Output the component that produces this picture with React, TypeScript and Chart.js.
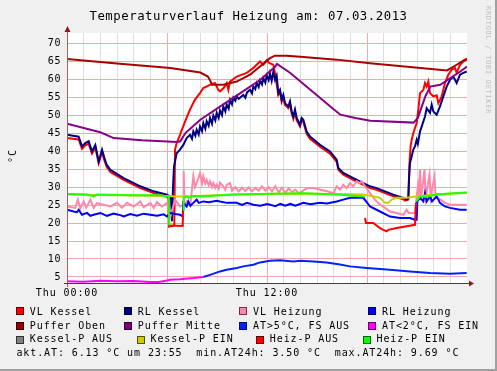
import React, { useEffect, useRef } from 'react';
import { Chart, registerables } from 'chart.js';

Chart.register(...registerables);

type P = [number, number | null];

// ---- data (x = hours since Thu 00:00, y = °C) ----
const vlKessel: P[] = [[0,43.6],[0.7,43.2],[0.9,40.6],[1.1,41.6],[1.3,42.0],[1.5,39.3],[1.7,41.0],[1.9,36.6],[2.1,39.6],[2.25,37.3],[2.38,35.6],[2.6,34.2],[3.4,32.0],[4.4,29.7],[5.2,28.3],[6.0,27.3],[6.1,26.8],[6.12,19.0],[6.44,19.3],[6.48,40.4],[6.58,42.2],[6.78,44.5],[7.08,48.2],[7.38,51.5],[7.68,54.3],[7.98,56.1],[8.18,57.5],[8.58,58.4],[8.88,58.9],[9.08,57.0],[9.18,56.6],[9.4,57.5],[9.58,58.9],[9.68,57.0],[9.78,59.3],[10.18,60.7],[10.78,61.7],[11.18,63.1],[11.58,64.9],[11.78,64.0],[11.98,65.2],[12.15,64.4],[12.38,64.0],[12.5,61.0],[12.58,58.5],[12.68,55.6],[12.78,56.5],[12.88,53.7],[12.98,55.0],[13.08,52.8],[13.28,51.9],[13.38,53.2],[13.48,50.5],[13.58,49.0],[13.68,51.0],[13.78,48.6],[13.98,46.8],[14.08,48.6],[14.18,48.1],[14.38,44.8],[14.58,43.4],[15.18,41.2],[15.78,39.3],[16.18,37.0],[16.28,34.8],[16.58,33.4],[17.18,32.0],[17.78,30.6],[18.18,29.7],[18.58,29.2],[19.58,27.4],[20.18,26.6],[20.28,26.2],[20.48,26.5],[20.54,36.0],[20.62,41.5],[20.68,43.1],[20.78,45.0],[20.98,47.8],[21.08,51.5],[21.18,56.1],[21.38,57.0],[21.48,58.9],[21.58,57.9],[21.68,59.3],[21.78,56.1],[21.98,55.2],[22.18,55.5],[22.28,53.3],[22.48,55.2],[22.68,58.9],[22.88,61.2],[23.08,62.6],[23.28,63.1],[23.38,61.7],[23.58,64.0],[23.78,64.9],[23.98,65.4]];

const rlKessel: P[] = [[0,44.5],[0.7,44.0],[0.9,41.3],[1.1,42.2],[1.3,42.7],[1.5,39.9],[1.7,41.7],[1.9,37.1],[2.1,40.4],[2.25,38.0],[2.38,36.2],[2.6,34.8],[3.4,32.5],[4.4,30.2],[5.2,28.8],[6.0,27.9],[6.18,27.4],[6.24,27.0],[6.3,20.5],[6.36,30.0],[6.42,35.7],[6.58,39.4],[6.78,40.4],[6.98,41.7],[7.18,43.6],[7.38,44.5],[7.5,43.4],[7.58,45.5],[7.7,44.3],[7.78,45.9],[7.9,44.6],[7.98,46.8],[8.1,45.5],[8.18,47.8],[8.3,46.2],[8.38,48.3],[8.5,47.0],[8.58,49.2],[8.7,47.6],[8.78,49.9],[8.9,48.5],[8.98,50.6],[9.1,49.2],[9.18,51.3],[9.3,50.0],[9.38,52.4],[9.5,51.0],[9.58,53.0],[9.7,51.8],[9.78,54.2],[9.9,53.0],[9.98,54.8],[10.1,54.0],[10.18,55.2],[10.3,54.5],[10.58,55.6],[10.7,54.8],[10.8,56.3],[10.98,57.0],[11.1,56.0],[11.18,58.0],[11.3,57.2],[11.38,58.9],[11.5,57.8],[11.58,59.6],[11.7,58.5],[11.78,60.3],[11.9,59.0],[11.98,61.0],[12.1,59.7],[12.18,61.5],[12.28,59.5],[12.38,62.1],[12.48,59.8],[12.58,61.0],[12.68,56.1],[12.78,57.0],[12.88,54.25],[12.98,55.6],[13.08,53.3],[13.28,52.4],[13.38,53.8],[13.48,51.0],[13.58,49.6],[13.68,51.5],[13.78,49.2],[13.98,47.3],[14.08,49.2],[14.18,48.7],[14.38,45.4],[14.58,44.0],[15.18,41.75],[15.78,39.9],[16.18,37.6],[16.28,35.3],[16.58,33.9],[17.18,32.5],[17.78,31.1],[18.18,30.2],[18.58,29.7],[19.58,27.9],[20.18,27.0],[20.38,26.5],[20.48,27.0],[20.52,32.0],[20.58,36.7],[20.68,38.5],[20.78,40.4],[20.88,41.3],[20.98,43.1],[21.05,42.0],[21.18,45.4],[21.28,46.8],[21.48,49.6],[21.58,51.9],[21.78,50.6],[21.88,52.9],[21.98,51.0],[22.18,50.1],[22.38,52.4],[22.58,55.2],[22.78,57.9],[22.98,59.8],[23.18,60.7],[23.38,58.9],[23.58,61.2],[23.78,61.7],[23.98,62.1]];

const vlHeizung: P[] = [[0,24.6],[0.5,24.2],[0.65,26.5],[0.8,24.0],[1.0,26.0],[1.15,24.2],[1.4,26.5],[1.6,24.2],[1.8,25.5],[2.2,25.1],[2.6,24.6],[3.0,25.6],[3.3,24.2],[3.6,25.6],[4.0,24.6],[4.4,26.0],[4.6,24.4],[5.0,25.6],[5.2,24.2],[5.4,25.8],[5.7,24.6],[6.0,25.6],[6.1,24.2],[6.22,22.0],[6.48,26.5],[6.78,24.6],[6.96,25.0],[7.0,34.5],[7.06,24.6],[7.2,26.0],[7.4,24.8],[7.58,33.0],[7.68,30.0],[7.78,31.1],[7.98,33.9],[8.1,31.0],[8.18,33.0],[8.3,31.0],[8.38,32.0],[8.5,30.5],[8.58,31.6],[8.7,30.0],[8.78,31.1],[8.9,29.8],[8.98,30.6],[9.1,29.5],[9.18,31.2],[9.38,30.2],[9.5,29.2],[9.58,30.6],[9.78,31.1],[9.9,29.0],[10.1,30.0],[10.3,28.8],[10.5,29.8],[10.7,28.9],[10.9,29.9],[11.1,28.8],[11.3,29.7],[11.5,29.0],[11.7,30.2],[11.9,29.0],[12.1,30.0],[12.3,28.8],[12.5,30.2],[12.7,28.5],[12.9,29.8],[13.1,28.3],[13.3,29.7],[13.5,28.5],[13.7,29.3],[13.9,28.3],[14.1,28.8],[14.4,29.7],[14.8,29.7],[15.2,29.25],[15.6,28.8],[16.0,28.3],[16.18,30.2],[16.38,29.25],[16.58,30.6],[16.78,29.7],[16.98,31.1],[17.18,30.2],[17.38,31.6],[17.58,31.1],[17.68,31.6],[17.88,30.2],[18.18,28.3],[18.48,26.5],[18.78,25.1],[19.08,24.2],[19.38,23.2],[19.78,22.8],[20.18,22.3],[20.38,23.7],[20.5,22.8],[20.88,22.8],[20.98,27.4],[21.05,30.0],[21.1,27.0],[21.18,34.8],[21.25,27.0],[21.45,35.0],[21.52,27.0],[21.75,33.5],[21.82,27.2],[22.05,33.0],[22.12,27.0],[22.3,26.8],[22.68,25.6],[22.98,25.1],[23.98,25.1]];

const rlHeizung: P[] = [[0,23.7],[0.4,23.2],[0.6,23.0],[0.7,23.7],[0.9,22.3],[1.2,22.8],[1.4,22.0],[1.6,22.3],[2.0,22.8],[2.4,22.0],[2.8,22.6],[3.2,22.2],[3.4,21.8],[3.8,22.5],[4.2,22.0],[4.6,22.6],[5.0,22.3],[5.4,22.0],[5.8,22.4],[6.0,21.8],[6.18,22.8],[6.5,22.5],[6.78,22.3],[6.94,21.8],[6.98,25.6],[7.18,24.6],[7.28,26.0],[7.4,24.8],[7.58,25.6],[7.78,26.5],[7.9,25.6],[8.18,26.0],[8.5,25.8],[9.0,26.2],[9.18,26.0],[9.6,25.6],[10.18,25.6],[10.5,25.0],[10.8,25.6],[11.18,25.1],[11.6,24.8],[12.0,25.3],[12.18,25.1],[12.5,24.7],[12.8,25.3],[13.1,24.8],[13.4,25.3],[13.7,24.8],[14.18,25.6],[14.6,25.2],[15.18,25.6],[15.6,25.4],[16.18,26.0],[16.58,26.5],[16.98,27.0],[17.58,27.0],[17.78,27.0],[18.18,24.6],[18.78,23.2],[19.38,21.8],[19.98,21.4],[20.58,21.4],[20.88,20.9],[20.98,20.9],[21.02,26.0],[21.18,27.0],[21.38,26.0],[21.48,28.3],[21.58,26.0],[21.78,27.4],[21.9,26.0],[22.18,27.4],[22.38,25.6],[22.68,24.6],[22.98,24.2],[23.58,23.7],[23.98,23.7]];

const pufferOben: P[] = [[0,65.6],[3,64.35],[6.2,63.1],[8,61.8],[8.45,60.7],[8.6,59.5],[8.7,58.4],[9.38,58.4],[10.18,59.3],[10.98,61.2],[11.58,63.5],[12.18,65.8],[12.48,66.5],[13.18,66.5],[14.18,66.1],[16.18,65.4],[18.18,64.4],[22.8,62.4],[23.28,63.7],[23.88,65.4],[24,65.7]];

const pufferMitte: P[] = [[0,47.6],[2,45.2],[2.8,43.6],[4.5,43.0],[6.6,42.5],[6.8,42.7],[7.1,45.0],[8,48.7],[9.2,52.4],[10.4,56.1],[11.6,59.8],[12.5,63.5],[12.6,64.2],[13.4,61.7],[14.6,57.0],[15.8,52.4],[16.4,50.1],[17.3,49.2],[18.2,48.4],[20.8,47.9],[21.05,49.2],[21.5,55.2],[21.8,57.9],[22.4,58.4],[23,60.3],[23.6,62.1],[24,63.5]];

const atHigh: P[] = [[8.18,5.0],[8.58,5.6],[9.18,6.55],[9.58,7.0],[10.18,7.5],[10.58,7.95],[11.18,8.4],[11.58,9.05],[12.18,9.5],[12.78,9.65],[13.58,9.3],[14.0,9.5],[14.78,9.3],[15.58,9.05],[15.78,8.9],[16.38,8.5],[16.98,7.95],[17.98,7.5],[19.38,7.0],[20.58,6.55],[21.78,6.1],[22.98,5.9],[23.98,6.13]];

const atLow: P[] = [[0,3.8],[1,3.7],[2,3.97],[3,3.8],[4,3.9],[5,3.6],[5.5,3.6],[6,4.0],[6.18,4.25],[6.78,4.4],[7.58,4.7],[8.18,5.0]];

const kesselPAus: P[] = [];

const kesselPEin: P[] = [[0,27.9],[3,27.7],[6,27.5],[6.5,27.4],[7.0,27.4],[10,27.9],[14,28.2],[17.78,27.9],[18.38,27.4],[18.78,27.0],[19.08,25.6],[19.28,25.6],[19.48,26.5],[19.78,27.0],[20.38,27.0],[20.98,27.4],[22,27.9],[24,28.4]];

const heizPAus: P[] = [[6.13,19.3],[6.94,19.2],[6.97,23.7],[7.5,null],[17.88,21.4],[17.94,20.0],[18.38,20.0],[18.78,18.6],[18.98,18.1],[19.18,17.7],[19.28,18.1],[19.78,18.6],[20.38,19.1],[20.88,19.5],[20.94,25.6]];

const heizPEin: P[] = [[0,28.05],[1.2,27.9],[1.6,27.4],[1.8,27.9],[4,27.7],[5.6,27.7],[6.0,27.4],[6.1,27.3],[6.13,19.3],[6.5,null],[6.97,23.7],[7.0,27.0],[7.18,27.4],[7.3,27.0],[7.5,27.5],[7.98,27.4],[10.18,27.9],[12.18,28.1],[14.18,28.3],[16.18,27.9],[17.78,27.4],[17.86,27.2],[18.5,null],[20.96,26.0],[21.18,27.4],[21.5,27.2],[22.18,27.9],[22.78,28.1],[23.98,28.5]];

const legendNames = ['VL Kessel', 'RL Kessel', 'VL Heizung', 'RL Heizung', 'Puffer Oben', 'Puffer Mitte', 'AT>5°C, FS AUS', 'AT<2°C, FS EIN', 'Kessel-P AUS', 'Kessel-P EIN', 'Heiz-P AUS', 'Heiz-P EIN'];
const seriesData: P[][] = [vlKessel, rlKessel, vlHeizung, rlHeizung, pufferOben, pufferMitte, atHigh, atLow, kesselPAus, kesselPEin, heizPAus, heizPEin];
const lineColors = ['#FF0000', '#000080', '#FF88AA', '#0000FF', '#AA0000', '#880088', '#0022FF', '#FF00FF', '#808080', '#CCCC00', '#FF0000', '#22FF00'];
const boxColors = ['#FF0000', '#000080', '#FF88AA', '#0000FF', '#990000', '#800080', '#0022FF', '#FF00FF', '#808080', '#CCCC00', '#FF0000', '#00FF00'];

const xLabelHours = [0, 12];
const xLabelTexts = ['Thu 00:00', 'Thu 12:00'];
const xMin = 0, xMax = 24;
const yMin = 3.33, yMax = 72.8, yStep = 5;

const titleText = 'Temperaturverlauf Heizung am: 07.03.2013';
const yUnit = '°C';
const aktAT = '6.13', aktTime = '23:55', minAT = '3.50', maxAT = '9.69';
const watermark = 'RRDTOOL / TOBI OETIKER';

// ---- layout ----
const W = 497, H = 371;
const PLOT_L = 67, PLOT_R = 467, PLOT_T = 33, PLOT_B = 283;
const MONO = '"DejaVu Sans Mono", monospace';
const boxX = [16, 124, 239.3, 368.3, 16, 124, 239.3, 368.3, 16, 136.7, 256, 362.7];
const rowBoxTop = [307.3, 321.7, 335.7];
const rowTextTop = [306.5, 320.5, 334.2];

const bgPlugin = {
  id: 'rrdBg',
  beforeDraw(chart: any) {
    const { ctx, chartArea: a } = chart;
    ctx.save();
    ctx.fillStyle = '#FFFFFF';
    ctx.fillRect(a.left, a.top, a.right - a.left, a.bottom - a.top);
    ctx.restore();
    ctx.letterSpacing = '0.9px';
  },
  afterDraw(chart: any) {
    const { ctx, chartArea: a } = chart;
    ctx.save();
    ctx.lineWidth = 1;
    ctx.strokeStyle = '#A06060';
    ctx.beginPath();
    ctx.moveTo(a.left + 0.5, a.bottom + 4);
    ctx.lineTo(a.left + 0.5, a.top - 3);
    ctx.stroke();
    ctx.strokeStyle = '#404040';
    ctx.beginPath();
    ctx.moveTo(a.left - 3, a.bottom + 0.5);
    ctx.lineTo(a.right + 3, a.bottom + 0.5);
    ctx.stroke();
    ctx.fillStyle = '#7F1F1F';
    ctx.beginPath();
    ctx.moveTo(a.left + 0.5 - 3, a.top - 1);
    ctx.lineTo(a.left + 0.5 + 3, a.top - 1);
    ctx.lineTo(a.left + 0.5, a.top - 7);
    ctx.closePath();
    ctx.fill();
    ctx.beginPath();
    ctx.moveTo(a.right + 2, a.bottom + 0.5 - 3);
    ctx.lineTo(a.right + 2, a.bottom + 0.5 + 3);
    ctx.lineTo(a.right + 7, a.bottom + 0.5);
    ctx.closePath();
    ctx.fill();
    ctx.restore();
  },
};

export default function App() {
  const canvasRef = useRef<HTMLCanvasElement | null>(null);

  useEffect(() => {
    if (!canvasRef.current) return;
    // RRDtool draws later definitions on top; Chart.js draws dataset 0 last
    const datasets = seriesData
      .map((pts, i) => ({
        label: legendNames[i],
        data: pts.map(([x, y]) => ({ x, y })),
        borderColor: lineColors[i],
        backgroundColor: lineColors[i],
        borderWidth: 2,
        pointRadius: 0,
        pointHoverRadius: 0,
        tension: 0,
        fill: false,
        spanGaps: false,
        borderJoinStyle: 'miter' as const,
      }))
      .reverse();

    const chart = new Chart(canvasRef.current, {
      type: 'line',
      data: { datasets },
      options: {
        animation: false,
        responsive: false,
        devicePixelRatio: 1,
        events: [],
        layout: { padding: { left: 0, top: PLOT_T, right: W - PLOT_R, bottom: 0 } },
        plugins: { legend: { display: false }, tooltip: { enabled: false }, title: { display: false } },
        scales: {
          x: {
            type: 'linear',
            min: xMin,
            max: xMax,
            offset: false,
            border: { display: false },
            grid: {
              drawTicks: false,
              lineWidth: 1,
              color: (c: any) => {
                const v = c.tick ? c.tick.value : -1;
                if (v <= xMin || v >= xMax) return 'rgba(0,0,0,0)';
                return v % 6 === 0 ? '#EEAAAA' : '#DEDEDE';
              },
            },
            ticks: {
              stepSize: 1,
              includeBounds: false,
              autoSkip: false,
              maxRotation: 0,
              minRotation: 0,
              padding: 4,
              color: '#000000',
              font: { family: MONO, size: 10 },
              callback: (v: any) => {
                const idx = xLabelHours.indexOf(Number(v));
                return idx >= 0 ? xLabelTexts[idx] : '';
              },
            },
            afterFit: (s: any) => { s.height = H - PLOT_B; },
          },
          y: {
            type: 'linear',
            min: yMin,
            max: yMax,
            border: { display: false },
            grid: { drawTicks: false, lineWidth: 1, color: '#EEAAAA' },
            ticks: {
              stepSize: yStep,
              includeBounds: false,
              padding: 5.5,
              color: '#000000',
              font: { family: MONO, size: 10 },
              callback: (v: any) => String(v),
            },
            afterFit: (s: any) => { s.width = PLOT_L; },
          },
        },
      },
      plugins: [bgPlugin],
    });
    return () => chart.destroy();
  }, []);

  const txt: React.CSSProperties = {
    position: 'absolute',
    fontFamily: MONO,
    fontSize: 10,
    lineHeight: '10px',
    letterSpacing: '0.9px',
    whiteSpace: 'pre',
    color: '#000',
  };

  return (
    <div
      style={{
        position: 'absolute',
        left: 0,
        top: 0,
        width: W,
        height: H,
        background: '#F0F0F0',
        overflow: 'hidden',
      }}
    >
      <canvas ref={canvasRef} width={W} height={H} style={{ position: 'absolute', left: 0, top: 0, width: W, height: H }} />
      <div
        style={{
          ...txt,
          left: 0,
          top: 10.2,
          width: W,
          textAlign: 'center',
          fontSize: 12.3,
          lineHeight: '12.3px',
          letterSpacing: '0.55px',
        }}
      >
        {titleText}
      </div>
      <div
        style={{
          ...txt,
          left: 13.3 - 15,
          top: 155.5 - 5,
          width: 30,
          height: 10,
          textAlign: 'center',
          transform: 'rotate(-90deg)',
        }}
      >
        {yUnit}
      </div>
      <div
        style={{
          ...txt,
          left: 483.5,
          top: 6,
          fontSize: 7,
          lineHeight: '7px',
          letterSpacing: '0.7px',
          color: '#BDBDBD',
          writingMode: 'vertical-rl',
        }}
      >
        {watermark}
      </div>
      {legendNames.map((name, i) => {
        const row = Math.floor(i / 4);
        return (
          <React.Fragment key={name}>
            <div
              style={{
                position: 'absolute',
                left: boxX[i],
                top: rowBoxTop[row],
                width: 8,
                height: 8,
                boxSizing: 'border-box',
                background: boxColors[i],
                border: '1px solid rgba(0,0,0,0.6)',
              }}
            />
            <div style={{ ...txt, left: boxX[i] + 13.8, top: rowTextTop[row] }}>{name}</div>
          </React.Fragment>
        );
      })}
      <div style={{ ...txt, left: 16.4, top: 348 }}>
        {`akt.AT: ${aktAT} °C um ${aktTime}  min.AT24h: ${minAT} °C  max.AT24h: ${maxAT} °C`}
      </div>
      <div style={{ position: 'absolute', right: 0, top: 0, width: 2, height: H, background: '#A0A0A0' }} />
      <div style={{ position: 'absolute', left: 0, bottom: 0, width: W, height: 2, background: '#A0A0A0' }} />
    </div>
  );
}
